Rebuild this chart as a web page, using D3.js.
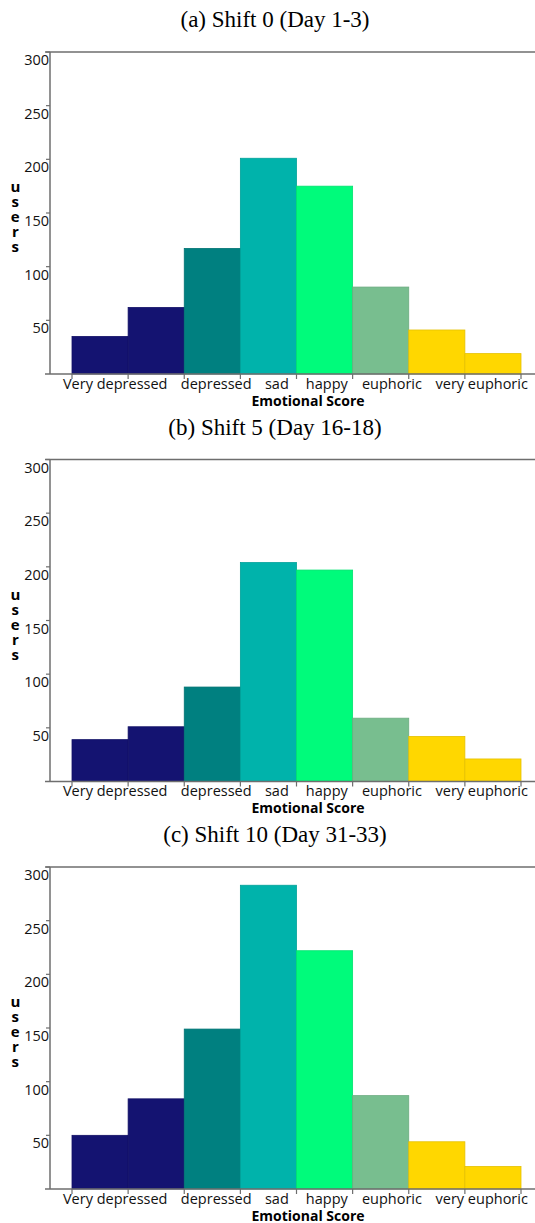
<!DOCTYPE html>
<html>
<head>
<meta charset="utf-8">
<script src="https://cdn.jsdelivr.net/npm/d3@7"></script>
<style>
  body { margin: 0; background: #fff; }
  svg { display: block; }
</style>
</head>
<body>
<svg width="535" height="1223"></svg>
<script>
// panel titles
const titles = ['(a) Shift 0 (Day 1-3)', '(b) Shift 5 (Day 16-18)', '(c) Shift 10 (Day 31-33)'];

// 8 bins on the emotional score axis (users per bin)
const shift0 = [35, 62, 117, 201, 175, 81, 41, 19];
const shift5 = [39, 51, 88, 204, 197, 59, 42, 21];
const shift10 = [50, 84, 149, 283, 222, 87, 44, 21];

const binColors = ['#141371', '#141371', '#008080', '#00b3ab', '#00fb7b', '#78be8f', '#ffd700', '#ffd700'];

// category labels and where they sit on the score axis
const scoreLabels = ['Very depressed', 'depressed', 'sad', 'happy', 'euphoric', 'very euphoric'];
const scoreLabelAt = [0.77, 2.57, 3.65, 4.54, 5.70, 7.3];

const yTicks = [50, 100, 150, 200, 250, 300];

const panels = [shift0, shift5, shift10];

const svg = d3.select('svg');
const axisColor = '#6e6e6e';

const x = d3.scaleLinear().domain([0, 8]).range([72, 521]);
const plotH = 322;

panels.forEach((values, i) => {
    const top = 52 + i * 407.5;
    const base = top + plotH;
    const y = d3.scaleLinear().domain([0, 300]).range([base, top]);

    const g = svg.append('g');

    // title
    g.append('text')
        .attr('x', 275)
        .attr('y', top - 25)
        .attr('text-anchor', 'middle')
        .style('font-family', '"Liberation Serif", "Times New Roman", serif')
        .style('font-size', '23px')
        .text(titles[i]);

    // bars
    g.selectAll('rect')
        .data(values)
        .enter()
        .append('rect')
        .attr('x', (d, j) => x(j))
        .attr('y', d => y(d))
        .attr('width', x(1) - x(0))
        .attr('height', d => base - y(d))
        .attr('fill', (d, j) => binColors[j])
        .attr('stroke', (d, j) => d3.color(binColors[j]).darker(0.3))
        .attr('stroke-width', 0.8);

    // frame: left, top, bottom
    g.append('line')
        .attr('x1', 50).attr('x2', 50)
        .attr('y1', top).attr('y2', base)
        .attr('stroke', axisColor).attr('stroke-width', 1.5);
    g.append('line')
        .attr('x1', 45).attr('x2', 535)
        .attr('y1', top).attr('y2', top)
        .attr('stroke', axisColor).attr('stroke-width', 1.5);
    g.append('line')
        .attr('x1', 45).attr('x2', 535)
        .attr('y1', base).attr('y2', base)
        .attr('stroke', axisColor).attr('stroke-width', 1.5);

    // y ticks
    g.selectAll('.ytick')
        .data(yTicks)
        .enter()
        .append('line')
        .attr('x1', 46).attr('x2', 50)
        .attr('y1', d => y(d)).attr('y2', d => y(d))
        .attr('stroke', axisColor).attr('stroke-width', 1.2);

    g.selectAll('.ylabel')
        .data(yTicks)
        .enter()
        .append('text')
        .attr('x', 49)
        .attr('y', d => y(d) + 13)
        .attr('text-anchor', 'end')
        .style('font-family', '"Open Sans", sans-serif')
        .style('font-size', '14.5px')
        .style('fill', '#111')
        .text(d => d);

    // x ticks at bin edges
    g.selectAll('.xtick')
        .data(d3.range(9))
        .enter()
        .append('line')
        .attr('x1', d => x(d)).attr('x2', d => x(d))
        .attr('y1', base).attr('y2', base + 5)
        .attr('stroke', axisColor).attr('stroke-width', 1.2);

    g.selectAll('.xlabel')
        .data(scoreLabels)
        .enter()
        .append('text')
        .attr('x', (d, j) => x(scoreLabelAt[j]))
        .attr('y', base + 14.5)
        .attr('text-anchor', 'middle')
        .style('font-family', '"Open Sans", sans-serif')
        .style('font-size', '14.5px')
        .style('fill', '#111')
        .text(d => d);

    // axis titles
    g.append('text')
        .attr('x', 308)
        .attr('y', base + 31.5)
        .attr('text-anchor', 'middle')
        .style('font-family', '"Open Sans", sans-serif')
        .style('font-size', '14px')
        .style('font-weight', 'bold')
        .text('Emotional Score');

    g.append('text')
        .attr('x', 15)
        .attr('y', top + 124)
        .style('font-family', '"Open Sans", sans-serif')
        .style('font-size', '15px')
        .style('font-weight', 'bold')
        .style('writing-mode', 'vertical-rl')
        .style('text-orientation', 'upright')
        .style('letter-spacing', '-5px')
        .text('users');
});
</script>
</body>
</html>
